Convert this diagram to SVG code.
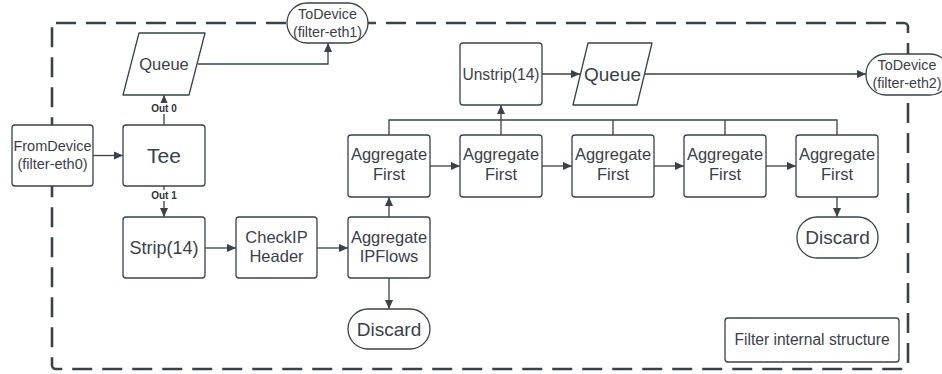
<svg xmlns="http://www.w3.org/2000/svg" width="942" height="374" viewBox="0 0 942 374">
<defs>
<style>
.n{fill:#fff;stroke:#3a414a;stroke-width:1.3}
.t{font-family:"Liberation Sans",Arial,sans-serif;fill:#3a414a;text-anchor:middle}
.c{fill:none;stroke:#3a414a;stroke-width:1.3}
.lbl{font-family:"Liberation Sans",Arial,sans-serif;font-weight:bold;font-size:10px;fill:#2e3338;text-anchor:middle}
</style>
<marker id="a" viewBox="0 0 10 10" refX="10" refY="5" markerWidth="9" markerHeight="9" markerUnits="userSpaceOnUse" orient="auto">
<path d="M0,0.5 L10,5 L0,9.5 z" fill="#3a414a"/>
</marker>
</defs>
<rect width="942" height="374" fill="#fff"/>
<g id="border">
<rect x="52" y="23" width="856" height="346" rx="4" fill="none" stroke="#3a414a" stroke-width="2.6" stroke-dasharray="20 10"/>
</g>
<g id="connectors">
<path class="c" d="M93,155.5 H123" marker-end="url(#a)"/>
<path class="c" d="M164,125 V95" marker-end="url(#a)"/>
<path class="c" d="M164,186 V217" marker-end="url(#a)"/>
<path class="c" d="M198,64 H328 V43" marker-end="url(#a)"/>
<path class="c" d="M205,248 H236" marker-end="url(#a)"/>
<path class="c" d="M317,248 H348" marker-end="url(#a)"/>
<path class="c" d="M389,217 V197" marker-end="url(#a)"/>
<path class="c" d="M389,278 V309" marker-end="url(#a)"/>
<path class="c" d="M430,166 H460" marker-end="url(#a)"/>
<path class="c" d="M542,166 H572" marker-end="url(#a)"/>
<path class="c" d="M654,166 H684" marker-end="url(#a)"/>
<path class="c" d="M766,166 H796" marker-end="url(#a)"/>
<path class="c" d="M389,135 V120 H837 V135"/>
<path class="c" d="M613,120 V135 M725,120 V135"/>
<path class="c" d="M501,135 V105" marker-end="url(#a)"/>
<path class="c" d="M837,197 V217" marker-end="url(#a)"/>
<path class="c" d="M542,74 H580" marker-end="url(#a)"/>
<path class="c" d="M645,74 H866" marker-end="url(#a)"/>
<rect x="148" y="103" width="32" height="11" fill="#fff"/>
<text class="lbl" x="164" y="112">Out 0</text>
<rect x="148" y="190" width="32" height="11" fill="#fff"/>
<text class="lbl" x="164" y="199">Out 1</text>
</g>
<g id="fromdevice">
<rect class="n" x="12" y="125" width="81" height="61" rx="3"/>
<text class="t" font-size="14.5" x="52.5" y="151">FromDevice</text>
<text class="t" font-size="14.5" x="52.5" y="169">(filter-eth0)</text>
</g>
<g id="tee">
<rect class="n" x="123" y="125" width="82" height="61" rx="3"/>
<text class="t" font-size="21" x="164" y="163">Tee</text>
</g>
<g id="queue1">
<path class="n" d="M139,33 H205 L189,95 H123 Z" stroke-linejoin="round"/>
<text class="t" font-size="16.5" x="164" y="70">Queue</text>
</g>
<g id="todevice1">
<rect class="n" x="287" y="3" width="81" height="40" rx="20"/>
<text class="t" font-size="14.3" x="327.5" y="19">ToDevice</text>
<text class="t" font-size="14.3" x="327.5" y="37">(filter-eth1)</text>
</g>
<g id="strip">
<rect class="n" x="123" y="217" width="82" height="61" rx="3"/>
<text class="t" font-size="18" x="164" y="254">Strip(14)</text>
</g>
<g id="checkip">
<rect class="n" x="236" y="217" width="81" height="61" rx="3"/>
<text class="t" font-size="16.5" x="276.5" y="243">CheckIP</text>
<text class="t" font-size="16.5" x="276.5" y="262">Header</text>
</g>
<g id="aggipflows">
<rect class="n" x="348" y="217" width="82" height="61" rx="3"/>
<text class="t" font-size="16.5" x="389" y="243">Aggregate</text>
<text class="t" font-size="16.5" x="389" y="262">IPFlows</text>
</g>
<g id="discard1">
<rect class="n" x="348" y="309" width="82" height="40" rx="20"/>
<text class="t" font-size="19" x="389" y="336">Discard</text>
</g>
<g id="aggfirst1">
<rect class="n" x="348" y="135" width="82" height="62" rx="3"/>
<text class="t" font-size="16.5" x="389" y="160">Aggregate</text>
<text class="t" font-size="16.5" x="389" y="180">First</text>
</g>
<g id="aggfirst2">
<rect class="n" x="460" y="135" width="82" height="62" rx="3"/>
<text class="t" font-size="16.5" x="501" y="160">Aggregate</text>
<text class="t" font-size="16.5" x="501" y="180">First</text>
</g>
<g id="aggfirst3">
<rect class="n" x="572" y="135" width="82" height="62" rx="3"/>
<text class="t" font-size="16.5" x="613" y="160">Aggregate</text>
<text class="t" font-size="16.5" x="613" y="180">First</text>
</g>
<g id="aggfirst4">
<rect class="n" x="684" y="135" width="82" height="62" rx="3"/>
<text class="t" font-size="16.5" x="725" y="160">Aggregate</text>
<text class="t" font-size="16.5" x="725" y="180">First</text>
</g>
<g id="aggfirst5">
<rect class="n" x="796" y="135" width="82" height="62" rx="3"/>
<text class="t" font-size="16.5" x="837" y="160">Aggregate</text>
<text class="t" font-size="16.5" x="837" y="180">First</text>
</g>
<g id="discard2">
<rect class="n" x="797" y="217" width="81" height="41" rx="20"/>
<text class="t" font-size="19" x="837.5" y="244">Discard</text>
</g>
<g id="unstrip">
<rect class="n" x="460" y="43" width="82" height="62" rx="3"/>
<text class="t" font-size="15.6" x="501" y="80">Unstrip(14)</text>
</g>
<g id="queue2">
<path class="n" d="M588,43 H652 L637,105 H573 Z" stroke-linejoin="round"/>
<text class="t" font-size="19" x="612.5" y="81">Queue</text>
</g>
<g id="todevice2">
<rect class="n" x="866" y="54" width="84" height="41" rx="20"/>
<text class="t" font-size="14.3" x="907" y="70">ToDevice</text>
<text class="t" font-size="14.3" x="907" y="88">(filter-eth2)</text>
</g>
<g id="legend">
<rect class="n" x="725" y="318" width="174" height="44" rx="3"/>
<text class="t" font-size="15.6" x="812" y="345">Filter internal structure</text>
</g>
</svg>
